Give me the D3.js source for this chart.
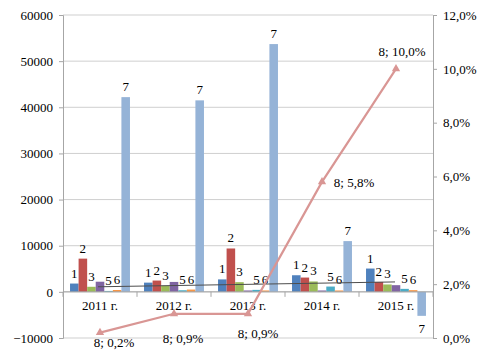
<!DOCTYPE html>
<html>
<head>
<meta charset="utf-8">
<script src="https://cdn.jsdelivr.net/npm/d3@7"></script>
<style>
  body { margin: 0; background: #fff; }
  text { font-family: "Liberation Serif", "Times New Roman", serif; fill: #000; }
</style>
</head>
<body>
<svg id="chart" width="494" height="354"></svg>
<script>
// Data
const years = ["2011 г.", "2012 г.", "2013 г.", "2014 г.", "2015 г."];
const seriesNames = ["1", "2", "3", "4", "5", "6", "7"];
const s1 = [1800, 2000, 2700, 3600, 5050];
const s2 = [7200, 2450, 9400, 3100, 2150];
const s3 = [1100, 1300, 2100, 2250, 1600];
const s4 = [2200, 2150, 300, 300, 1450];
const s5 = [200, 350, 430, 1150, 650];
const s6 = [400, 500, 300, 300, 370];
const s7 = [42200, 41500, 53700, 11000, -5200];
const s8 = [0.002, 0.009, 0.009, 0.058, 0.100];   // right axis, %
const trendEnds = [1100, 2150];                      // dark trend line, first/last year
const leftTicks = [-10000, 0, 10000, 20000, 30000, 40000, 50000, 60000];
const rightTicks = [0, 0.02, 0.04, 0.06, 0.08, 0.10, 0.12];

const barSeries = [s1, s2, s3, s4, s5, s6, s7];
const colors = ["#4F81BD", "#C0504D", "#9BBB59", "#8064A2", "#4BACC6", "#F79646", "#95B3D7"];
const lineColor = "#D99694";

const svg = d3.select("#chart");
const pLeft = 63, pRight = 433, pTop = 15, pBottom = 338;

// Scales
const yL = d3.scaleLinear().domain([-10000, 60000]).range([pBottom, pTop]);
const yR = d3.scaleLinear().domain([0, 0.12]).range([pBottom, pTop]);
const x0 = d3.scaleBand().domain(years).range([pLeft, pRight]).paddingInner(0.19).paddingOuter(0.095);
const x1 = d3.scaleBand().domain(seriesNames).range([0, x0.bandwidth()]);
const cx = d => x0(d) + x0.bandwidth() / 2;

// Gridlines
svg.append("g")
  .selectAll("line")
  .data(leftTicks)
  .join("line")
    .attr("x1", pLeft).attr("x2", pRight)
    .attr("y1", d => yL(d)).attr("y2", d => yL(d))
    .attr("stroke", "#cfcfcf")
    .attr("stroke-width", 1);

// Left axis
const axL = svg.append("g")
  .attr("transform", `translate(${pLeft},0)`)
  .call(d3.axisLeft(yL).tickValues(leftTicks).tickSize(4).tickPadding(6).tickFormat(d3.format("d")));
axL.selectAll("text").style("font-size", "13px");

// Right axis
const axR = svg.append("g")
  .attr("transform", `translate(${pRight},0)`)
  .call(d3.axisRight(yR).tickValues(rightTicks).tickSize(4).tickPadding(6)
    .tickFormat(d => (d * 100).toFixed(1).replace(".", ",") + "%"));
axR.selectAll("text").style("font-size", "13px");

svg.selectAll(".domain, .tick line").attr("stroke", "#a6a6a6");

// Bars
const groups = svg.append("g")
  .selectAll("g")
  .data(years)
  .join("g")
    .attr("transform", d => `translate(${x0(d)},0)`);

groups.selectAll("rect")
  .data((d, i) => barSeries.map((s, k) => ({ name: seriesNames[k], v: s[i], k })))
  .join("rect")
    .attr("x", d => x1(d.name))
    .attr("width", x1.bandwidth())
    .attr("y", d => yL(Math.max(0, d.v)))
    .attr("height", d => Math.abs(yL(d.v) - yL(0)))
    .attr("fill", d => colors[d.k]);

// Bar labels (series 4 has none)
groups.selectAll("text")
  .data((d, i) => barSeries.map((s, k) => ({ name: seriesNames[k], v: s[i], k })).filter(d => d.k !== 3))
  .join("text")
    .attr("x", d => x1(d.name) + x1.bandwidth() / 2)
    .attr("y", d => d.v >= 0 ? yL(d.v) - 6 : yL(d.v) + 17)
    .attr("text-anchor", "middle")
    .style("font-size", "13px")
    .text(d => d.name);

// Category axis at zero
const y0 = yL(0);
svg.append("line")
  .attr("x1", pLeft).attr("x2", pRight)
  .attr("y1", y0).attr("y2", y0)
  .attr("stroke", "#a6a6a6");
svg.append("g")
  .selectAll("line")
  .data(d3.range(years.length + 1))
  .join("line")
    .attr("x1", i => pLeft + i * x0.step()).attr("x2", i => pLeft + i * x0.step())
    .attr("y1", y0).attr("y2", y0 + 5)
    .attr("stroke", "#a6a6a6");
svg.append("g")
  .selectAll("text")
  .data(years)
  .join("text")
    .attr("x", d => cx(d))
    .attr("y", y0 + 18)
    .attr("text-anchor", "middle")
    .style("font-size", "13px")
    .text(d => d);

// Trend line
svg.append("line")
  .attr("x1", cx(years[0]) - 2).attr("x2", cx(years[years.length - 1]) - 1)
  .attr("y1", yL(trendEnds[0])).attr("y2", yL(trendEnds[1]))
  .attr("stroke", "#4d4d4d")
  .attr("stroke-width", 1);

// Series 8 line
const pts = years.map((y, i) => ({ y, v: s8[i] }));
svg.append("path")
  .datum(pts)
  .attr("fill", "none")
  .attr("stroke", lineColor)
  .attr("stroke-width", 2.2)
  .attr("d", d3.line().x(d => cx(d.y)).y(d => yR(d.v)));

svg.append("g")
  .selectAll("path")
  .data(pts)
  .join("path")
    .attr("transform", d => `translate(${cx(d.y)},${yR(d.v)})`)
    .attr("d", d3.symbol(d3.symbolTriangle, 30))
    .attr("fill", lineColor);

// Line labels: offsets from the point, label by label
const labelOffset = [[14, 14], [9, 29], [10, 24], [32, 5], [6, -13]];
svg.append("g")
  .selectAll("text")
  .data(pts)
  .join("text")
    .attr("x", (d, i) => cx(d.y) + labelOffset[i][0])
    .attr("y", (d, i) => yR(d.v) + labelOffset[i][1])
    .attr("text-anchor", "middle")
    .style("font-size", "13px")
    .text(d => "8; " + (d.v * 100).toFixed(1).replace(".", ",") + "%");
</script>
</body>
</html>
